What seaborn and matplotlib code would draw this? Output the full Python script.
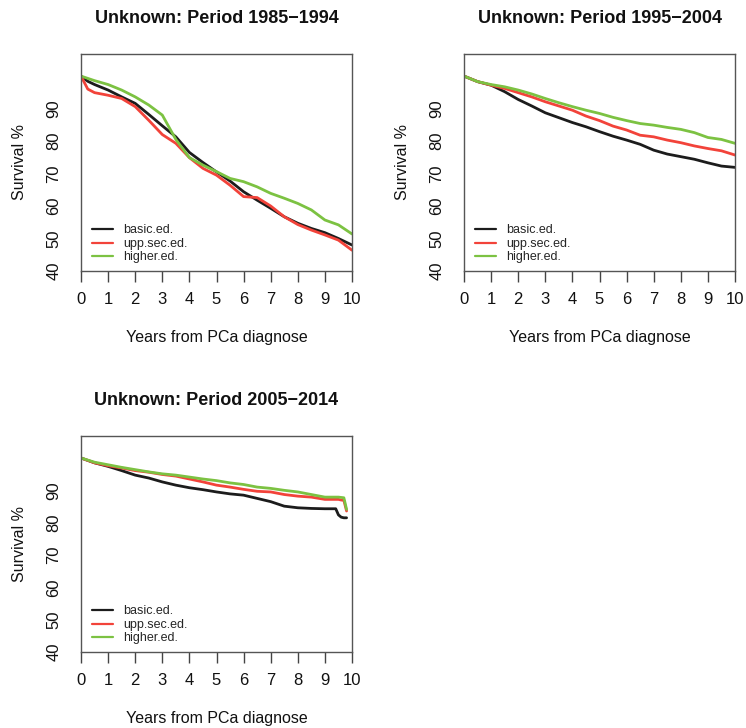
import numpy as np
import pandas as pd
import matplotlib
matplotlib.use("Agg")
import matplotlib.pyplot as plt
import seaborn as sns

# ---------------- data ----------------
groups = ["basic.ed.", "upp.sec.ed.", "higher.ed."]
titles = ["Unknown: Period 1985\u22121994",
          "Unknown: Period 1995\u22122004",
          "Unknown: Period 2005\u22122014"]

years_p1 = [0, 0.25, 0.5, 1, 1.5, 2, 2.5, 3, 3.5, 4, 4.5, 5, 5.5, 6, 6.5, 7, 7.5, 8, 8.5, 9, 9.5, 10]
p1_basic = [100, 98.4, 97.4, 95.7, 93.6, 91.6, 88.2, 84.7, 81.3, 76.5, 73.4, 70.5, 67.7, 64.4, 61.8, 59.3, 56.7, 54.7, 53.1, 51.8, 50.0, 48.0]
p1_upp = [100, 96.0, 94.9, 94.1, 93.1, 90.6, 86.4, 82.0, 79.3, 74.9, 71.6, 69.5, 66.4, 62.9, 62.6, 60.0, 56.7, 54.3, 52.6, 51.1, 49.5, 46.4]
p1_high = [100, 99.3, 98.6, 97.4, 95.7, 93.6, 91.1, 88.0, 80.5, 74.9, 72.6, 70.6, 68.5, 67.5, 65.9, 63.9, 62.4, 60.8, 58.8, 55.7, 54.2, 51.4]

years_p2 = [0, 0.5, 1, 1.5, 2, 2.5, 3, 3.5, 4, 4.5, 5, 5.5, 6, 6.5, 7, 7.5, 8, 8.5, 9, 9.5, 10]
p2_basic = [100, 98.3, 97.2, 95.2, 92.8, 90.8, 88.7, 87.2, 85.7, 84.4, 82.9, 81.5, 80.3, 79.0, 77.2, 76.0, 75.2, 74.4, 73.3, 72.3, 71.9]
p2_upp = [100, 98.3, 97.2, 96.2, 94.9, 93.6, 92.1, 90.8, 89.5, 87.7, 86.3, 84.6, 83.4, 81.8, 81.3, 80.3, 79.5, 78.5, 77.7, 77.0, 75.7]
p2_high = [100, 98.3, 97.4, 96.7, 95.7, 94.5, 93.1, 91.8, 90.6, 89.5, 88.5, 87.3, 86.3, 85.4, 84.9, 84.2, 83.6, 82.6, 81.1, 80.5, 79.3]

years_p3 = [0, 0.5, 1, 1.5, 2, 2.5, 3, 3.5, 4, 4.5, 5, 5.5, 6, 6.5, 7, 7.5, 8, 8.5, 9, 9.4, 9.5, 9.6, 9.7, 9.8]
p3_basic = [100, 98.5, 97.4, 96.1, 94.7, 93.8, 92.6, 91.6, 90.8, 90.2, 89.5, 88.9, 88.5, 87.5, 86.5, 85.1, 84.6, 84.4, 84.3, 84.3, 82.4, 81.7, 81.5, 81.5]
p3_upp = [100, 98.5, 97.6, 96.9, 96.1, 95.6, 94.9, 94.4, 93.5, 92.6, 91.6, 91.0, 90.3, 89.7, 89.5, 88.7, 88.2, 87.9, 87.2, 87.2, 87.2, 87.0, 86.9, 83.6]
p3_high = [100, 98.7, 97.9, 97.1, 96.4, 95.7, 95.1, 94.7, 94.1, 93.5, 93.0, 92.3, 91.8, 91.0, 90.6, 90.0, 89.5, 88.7, 87.9, 87.9, 87.9, 87.8, 87.7, 84.1]

x_ticks = [0, 1, 2, 3, 4, 5, 6, 7, 8, 9, 10]
y_ticks = [40, 50, 60, 70, 80, 90]

panels = [
    (years_p1, [p1_basic, p1_upp, p1_high]),
    (years_p2, [p2_basic, p2_upp, p2_high]),
    (years_p3, [p3_basic, p3_upp, p3_high]),
]

colors = {"basic.ed.": "#1c1c1c", "upp.sec.ed.": "#f2433a", "higher.ed.": "#7cc242"}

# ---------------- figure ----------------
sns.set_style("white")
plt.rcParams["font.family"] = ["Liberation Sans", "DejaVu Sans"]

W, H = 746, 728
fig = plt.figure(figsize=(W / 100, H / 100), dpi=100)

def px_axes(left, top, right, bottom):
    return fig.add_axes([left / W, 1 - bottom / H, (right - left) / W, (bottom - top) / H])

boxes = [(81, 54, 352, 271), (464, 54, 735, 271), (81, 436, 352, 652)]

for (years, series), title, box in zip(panels, titles, boxes):
    ax = px_axes(*box)
    rows = []
    for g, vals in zip(groups, series):
        for t, v in zip(years, vals):
            rows.append({"year": t, "surv": v, "group": g})
    df = pd.DataFrame(rows)
    sns.lineplot(data=df, x="year", y="surv", hue="group", hue_order=groups,
                 palette=colors, linewidth=2.0, ax=ax, legend=False)
    ax.set_xlim(0, 10)
    ax.set_ylim(40, 106.8)
    ax.set_xticks(x_ticks)
    ax.set_yticks(y_ticks)
    ax.set_yticklabels([str(v) for v in y_ticks], rotation=90, va="center")
    ax.tick_params(axis="x", length=8, width=1, color="#444444", pad=7,
                   labelsize=12, labelcolor="#111111", direction="out", bottom=True)
    ax.tick_params(axis="y", length=0, pad=14, labelsize=12, labelcolor="#111111", left=True)
    for s in ax.spines.values():
        s.set_color("#555555")
        s.set_linewidth(1.0)
    ax.set_xlabel("Years from PCa diagnose", fontsize=11.5, labelpad=17, color="#111111")
    ax.set_ylabel("Survival %", fontsize=11.5, labelpad=14, color="#111111")
    ax.set_title(title, fontsize=13, fontweight="bold", pad=22, color="#111111")
    handles = [plt.Line2D([], [], color=colors[g], lw=1.6) for g in groups]
    ax.legend(handles, groups, loc="lower left", bbox_to_anchor=(0.04, 0.035),
              frameon=False, fontsize=9, handlelength=1.7, handletextpad=0.8,
              labelspacing=0.12, borderpad=0, borderaxespad=0)

fig.savefig("out.png", dpi=100, facecolor="white")
